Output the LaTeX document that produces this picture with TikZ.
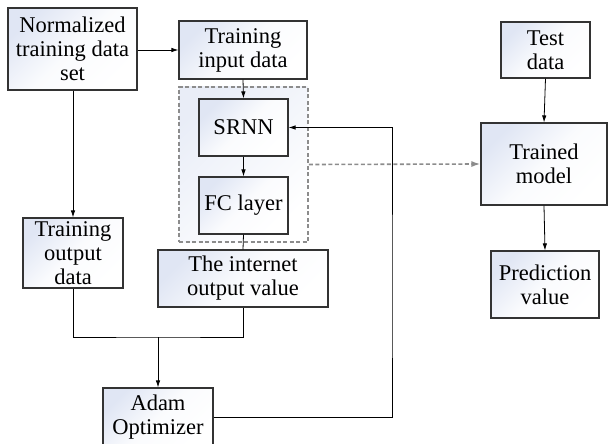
\documentclass[tikz,border=0pt]{standalone}
\usepackage{fontspec}
\setmainfont{Liberation Serif}
\usetikzlibrary{arrows.meta}
\definecolor{boxblue}{HTML}{E0E6F4}
\definecolor{dgray}{HTML}{8C8C8C}
\tikzset{
  box/.style={draw=black!80, line width=1.1pt, top color=boxblue, bottom color=white, middle color=white!85!boxblue, shading angle=45,
    inner sep=0pt, align=center, font=\fontsize{22.5}{24}\selectfont},
  arr/.style={line width=0.8pt, -{Latex[length=7pt,width=4.5pt]}},
  ln/.style={line width=0.8pt},
  dbox/.style={draw=dgray, line width=1.6pt, dash pattern=on 4pt off 2.5pt, top color=boxblue!70, bottom color=white, shading angle=45},
  darr/.style={draw=dgray, line width=1.6pt, dash pattern=on 4pt off 2.5pt, -{Latex[length=9pt,width=6pt,fill=dgray]}}
}
\begin{document}
\begin{tikzpicture}[x=1pt,y=-1pt]
\useasboundingbox (0,0) rectangle (608,444);
\node[dbox, minimum width=129pt, minimum height=155pt] (dash) at (243.5,164.5) {};
\node[box, minimum width=129pt, minimum height=82pt] (norm) at (72.5,49) {Normalized\\training data\\set};
\node[box, minimum width=128pt, minimum height=58pt] (tin) at (243,50) {Training\\input data};
\node[box, minimum width=89pt, minimum height=57pt] (srnn) at (243.5,127.5) {SRNN};
\node[box, minimum width=89pt, minimum height=57pt] (fc) at (243.5,205.5) {FC layer};
\node[box, minimum width=170pt, minimum height=57pt] (iout) at (243,278.5) {The internet\\output value};
\node[box, minimum width=100pt, minimum height=70pt] (tout) at (73,253) {Training\\output\\data};
\node[box, minimum width=110pt, minimum height=58pt] (adam) at (158,417) {Adam\\Optimizer};
\node[box, minimum width=89pt, minimum height=56pt] (test) at (545.5,50) {Test\\data};
\node[box, minimum width=126pt, minimum height=82pt] (trained) at (544,164) {Trained\\model};
\node[box, minimum width=108pt, minimum height=67pt] (pred) at (545,284.5) {Prediction\\value};
\coordinate (j) at (158,337);
\coordinate (fb) at (392,300);
\draw[arr] (norm.east|-tin.west) -- (tin.west);
\draw[arr] (tin.south) -- (srnn.north);
\draw[arr] (norm.south-|tout.north) -- (tout.north);
\draw[arr] (srnn.south) -- (fc.north);
\draw[ln] (fc.south) -- (iout.north);
\draw[ln] (tout.south) |- (j) -| (iout.south);
\draw[arr] (j) -- (adam.north);
\draw[arr] (adam.east) -| (fb) |- (srnn.east);
\draw[darr] (dash.east) -- (trained.west);
\draw[arr] (test.south) -- (trained.north);
\draw[arr] (trained.south) -- (pred.north);
\end{tikzpicture}
\end{document}
